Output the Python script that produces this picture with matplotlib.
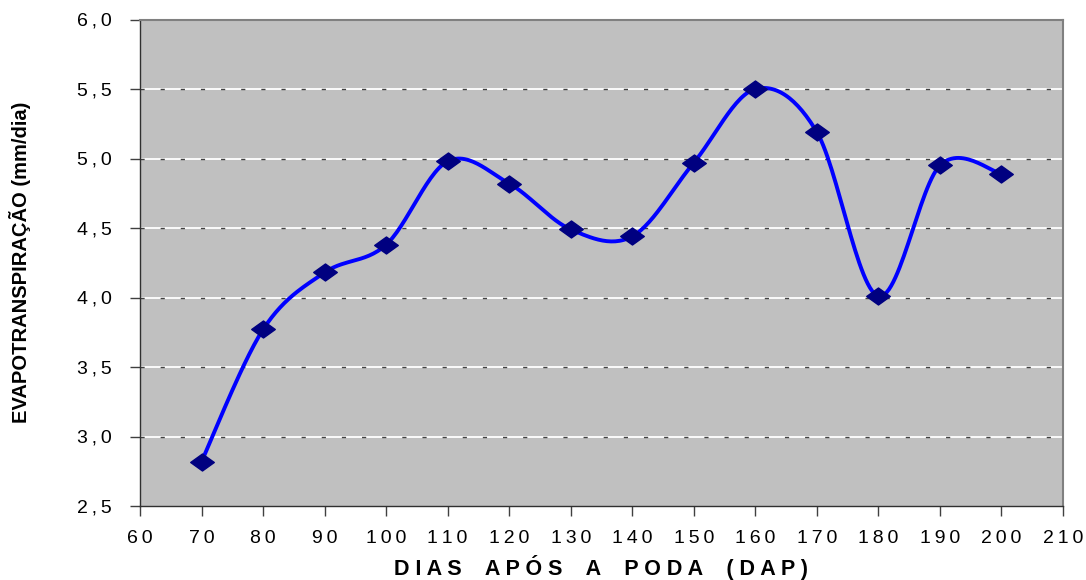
import numpy as np
import matplotlib
matplotlib.use("Agg")
import matplotlib.pyplot as plt
from matplotlib.path import Path

# data
dias = [70, 80, 90, 100, 110, 120, 130, 140, 150, 160, 170, 180, 190, 200]
etp = [2.82, 3.77, 4.18, 4.38, 4.98, 4.82, 4.49, 4.44, 4.97, 5.50, 5.19, 4.01, 4.95, 4.89]
x_ticks = list(range(60, 211, 10))
y_ticks = [2.5, 3.0, 3.5, 4.0, 4.5, 5.0, 5.5, 6.0]

plt.rcParams['font.family'] = ['Liberation Sans', 'DejaVu Sans']

fig = plt.figure(figsize=(10.86, 5.8), dpi=100)
ax = fig.add_axes([140 / 1086, 74 / 580, 923 / 1086, 486.5 / 580])
ax.set_facecolor('#C0C0C0')
ax.set_xlim(60, 210)
ax.set_ylim(2.5, 6.0)

THIN = '\u2009'


def spaced(s, sep=THIN):
    return sep.join(s)


ax.set_xticks(x_ticks)
ax.set_xticklabels([spaced(str(t)) for t in x_ticks], fontsize=14)
ax.set_yticks(y_ticks)
ax.set_yticklabels([spaced(f'{t:.1f}'.replace('.', ',')) for t in y_ticks], fontsize=14)
ax.tick_params(axis='both', direction='out', length=7, width=1, color='#404040')
ax.tick_params(axis='y', pad=13)
ax.tick_params(axis='x', pad=10)

# gridlines: white with dark dashes on top
for y in y_ticks[1:-1]:
    ax.axhline(y, color='white', lw=1.3, zorder=1)
    ax.axhline(y, color='#404040', lw=1.0, ls=(0, (3, 11.5)), zorder=1.5)

for side in ['left', 'bottom']:
    ax.spines[side].set_color('#303030')
    ax.spines[side].set_linewidth(1.0)
for side in ['top', 'right']:
    ax.spines[side].set_color('#808080')
    ax.spines[side].set_linewidth(1.5)

# Excel-like smoothed line, computed in display coordinates
pts = ax.transData.transform(np.column_stack([dias, etp]))
curve = [pts[0]]
n = len(pts)
for i in range(n - 1):
    p0 = pts[i - 1] if i > 0 else pts[i]
    p1 = pts[i]
    p2 = pts[i + 1]
    p3 = pts[i + 2] if i + 2 < n else pts[i + 1]
    c1 = p1 + (p2 - p0) / 6
    c2 = p2 - (p3 - p1) / 6
    t = np.linspace(0, 1, 30)[1:, None]
    seg = ((1 - t) ** 3) * p1 + 3 * ((1 - t) ** 2) * t * c1 + 3 * (1 - t) * t ** 2 * c2 + t ** 3 * p2
    curve.extend(seg)
curve = ax.transData.inverted().transform(np.array(curve))
ax.plot(curve[:, 0], curve[:, 1], color='#0000FF', lw=2.8, zorder=3, solid_capstyle='round')

diamond = Path([(-1, 0), (0, 0.72), (1, 0), (0, -0.72), (-1, 0)],
               [Path.MOVETO, Path.LINETO, Path.LINETO, Path.LINETO, Path.CLOSEPOLY])
ax.plot(dias, etp, ls='none', marker=diamond, ms=17, color='#000080',
        markeredgecolor='#000080', zorder=4)

ax.set_xlabel(spaced('DIAS APÓS A PODA (DAP)', ' ').replace('   ', '    '),
              fontsize=15.5, fontweight='bold')
ax.xaxis.set_label_coords(0.5, (506 - 555) / 486.5)
ax.set_ylabel('EVAPOTRANSPIRAÇÃO (mm/dia)', fontsize=14.5, fontweight='bold')
ax.yaxis.set_label_coords((31 - 140) / 923, 0.5)

fig.savefig('out.png', dpi=100)
